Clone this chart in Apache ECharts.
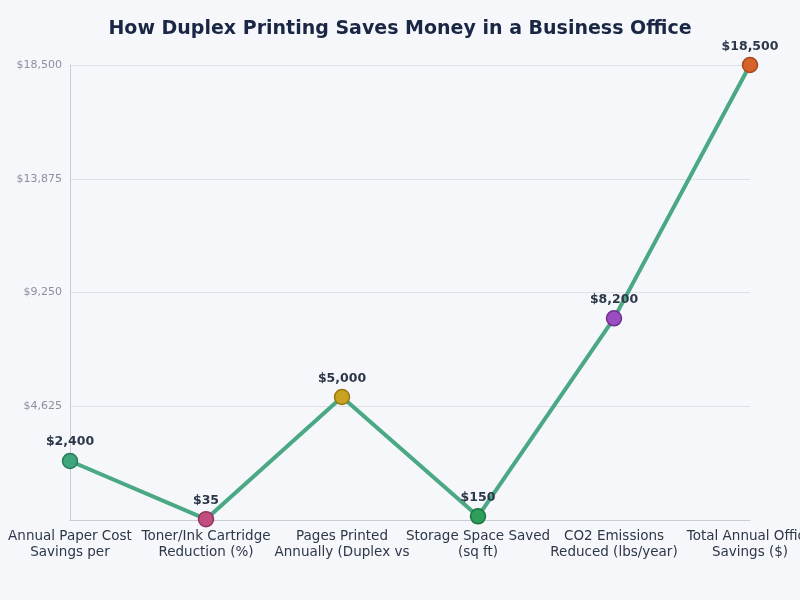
<!DOCTYPE html>
<html>
<head>
<meta charset="utf-8">
<script src="https://cdn.jsdelivr.net/npm/echarts@6/dist/echarts.min.js"></script>
<style>
  html, body { margin: 0; padding: 0; background: #f5f7fb; }
  #chart { width: 800px; height: 600px; }
</style>
</head>
<body>
<div id="chart"></div>
<script>
// categories as shown (labels wrap to two lines and are cut off)
const categories = [
  "Annual Paper Cost\nSavings per",
  "Toner/Ink Cartridge\nReduction (%)",
  "Pages Printed\nAnnually (Duplex vs",
  "Storage Space Saved\n(sq ft)",
  "CO2 Emissions\nReduced (lbs/year)",
  "Total Annual Office\nSavings ($)"
]
const values = [2400, 35, 5000, 150, 8200, 18500]
const pointColors = ["#3fa57c", "#c04f80", "#c9a320", "#2e9f5a", "#9b4cc0", "#d8632a"]
const pointBorders = ["#2a7a58", "#92335c", "#957812", "#1e7540", "#6f2f90", "#a5461a"]
const yTicks = [0, 4625, 9250, 13875, 18500]

const fmt = v => "$" + v.toLocaleString("en-US")

const chart = echarts.init(document.getElementById("chart"))
chart.setOption({
  backgroundColor: "#f5f7fb",
  animation: false,
  textStyle: { fontFamily: "DejaVu Sans" },
  title: {
    text: "How Duplex Printing Saves Money in a Business Office",
    left: "center",
    top: 15,
    textStyle: { fontSize: 19, fontWeight: "bold", color: "#1a2744" }
  },
  grid: { left: 70, right: 50, top: 65, bottom: 80, containLabel: false, outerBoundsMode: "none" },
  xAxis: {
    type: "category",
    data: categories,
    boundaryGap: false,
    axisLine: { lineStyle: { color: "#c8ccd4" } },
    axisTick: { show: false },
    axisLabel: { color: "#2d3748", fontSize: 13.5, interval: 0, margin: 8, lineHeight: 16 }
  },
  yAxis: {
    type: "value",
    min: yTicks[0],
    max: yTicks[yTicks.length - 1],
    interval: yTicks[1] - yTicks[0],
    axisLine: { show: true, lineStyle: { color: "#c8ccd4" } },
    axisTick: { show: false },
    splitLine: { lineStyle: { color: "#dde0e7" } },
    axisLabel: { color: "#8a90a0", fontSize: 11, showMinLabel: false, formatter: v => (v === 0 ? "" : fmt(v)) }
  },
  series: [{
    type: "line",
    data: values.map((v, i) => ({
      value: v,
      itemStyle: { color: pointColors[i], borderColor: pointBorders[i], borderWidth: 1.5 }
    })),
    lineStyle: { color: "#4aa884", width: 4 },
    symbol: "circle",
    symbolSize: 15,
    label: {
      show: true,
      position: "top",
      distance: 4,
      formatter: p => fmt(p.value),
      fontSize: 12.5,
      fontWeight: "bold",
      color: "#2d3748"
    }
  }]
})
</script>
</body>
</html>
